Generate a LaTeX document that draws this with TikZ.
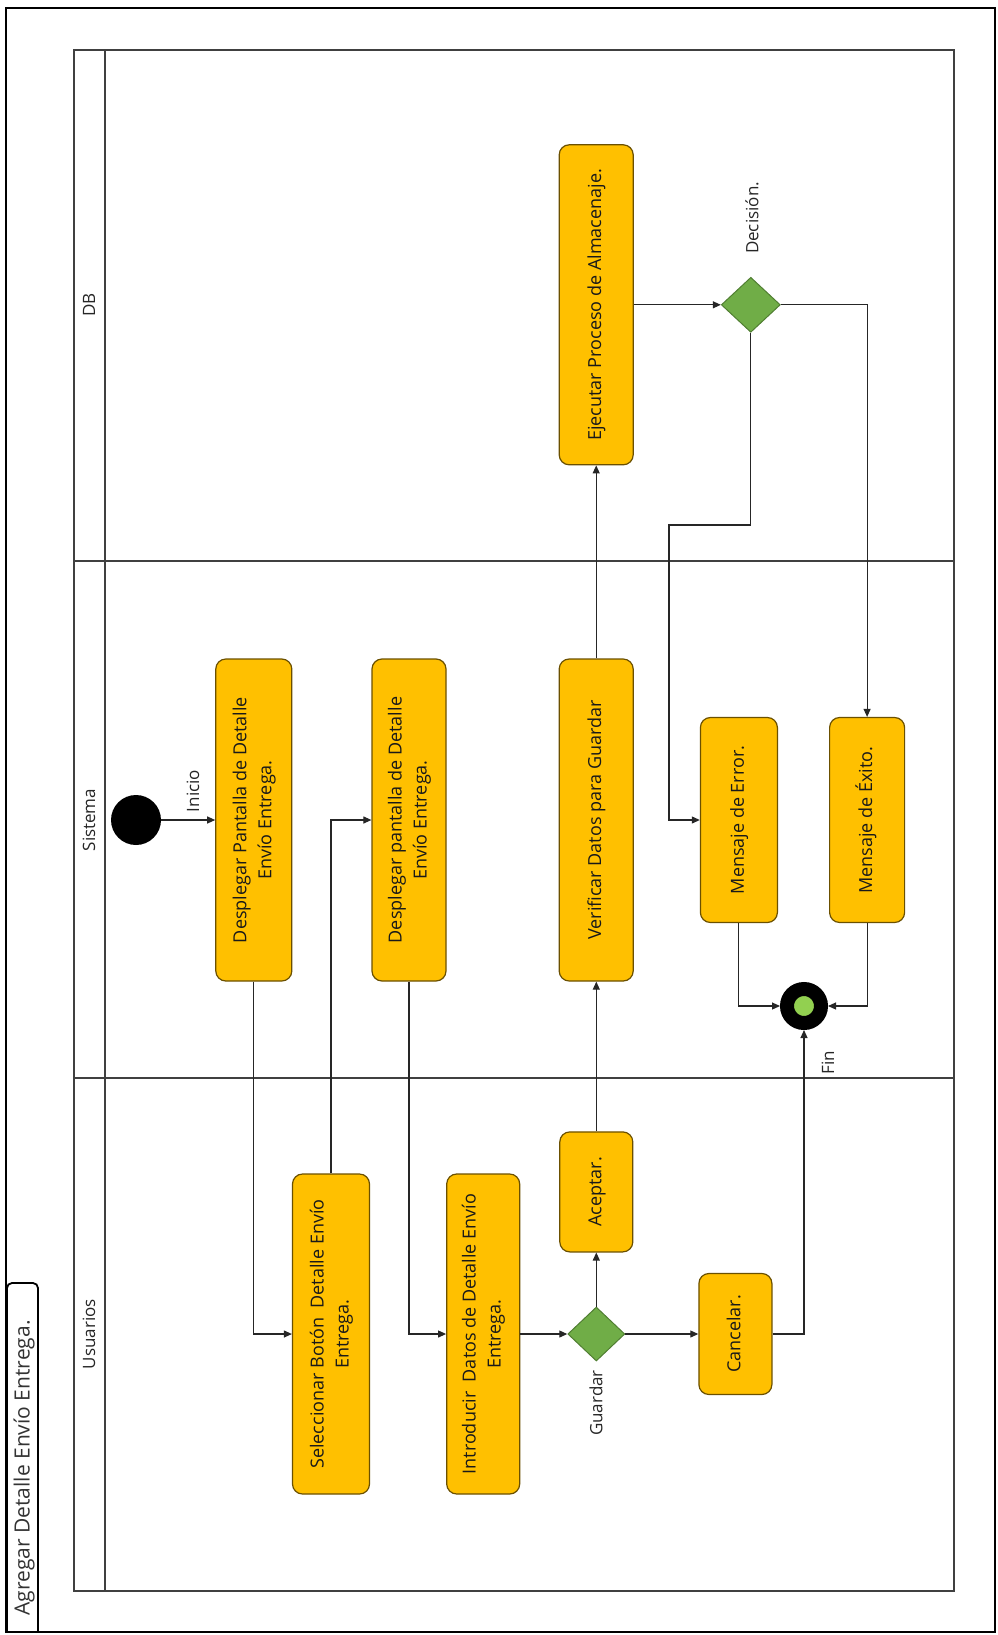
\documentclass[tikz,border=0pt]{standalone}
\usepackage{fontspec}
\setmainfont{Open Sans}
\usepackage{graphicx}
\usepackage{xcolor}
\usepackage{tikz}
\usetikzlibrary{shapes.geometric,arrows.meta,positioning,calc}

\definecolor{actfill}{HTML}{FFC000}
\definecolor{actline}{HTML}{6B5000}
\definecolor{decfill}{HTML}{70AD47}
\definecolor{decline}{HTML}{507E32}
\definecolor{endgreen}{HTML}{92D050}
\definecolor{poolline}{HTML}{404040}

\newcommand{\vtxt}[1]{\rotatebox{90}{\begin{tabular}{@{}c@{}}#1\end{tabular}}}

\begin{document}
\begin{tikzpicture}[
  x=1pt, y=-1pt,
  actbox/.style={draw=actline, line width=1.2pt, fill=actfill, rounded corners=10pt, inner sep=0pt, font=\fontsize{18}{25}\selectfont, text=black!90},
  decnode/.style={draw=decline, line width=1pt, fill=decfill, diamond, inner sep=0pt, minimum width=59pt, minimum height=55pt},
  arr/.style={-{Triangle[length=8pt,width=7pt]}, line width=1.1pt, draw=black!85},
  lbl/.style={font=\fontsize{17}{20}\selectfont, rotate=90, text=black!85},
  lanetitle/.style={font=\fontsize{17}{20}\selectfont, rotate=90, text=black!85},
  lane/.style={draw=poolline, line width=1.4pt}
]
\useasboundingbox (0,0) rectangle (998,1635);

% frame and title tab
\draw[line width=1.5pt] (6,8) rectangle (995,1632);
\draw[line width=1.8pt, rounded corners=5pt] (7,1632) -- (7,1283) -- (38,1283) -- (38,1632);
\node[rotate=90, font=\fontsize{21}{25}\selectfont, text=black!80] (titulo) at (24,1468) {Agregar Detalle Envío Entrega.};

% pool and lanes
\draw[lane] (74,50) rectangle (954,1591);
\draw[lane] (105,50) -- (105,1591);
\draw[lane] (74,561) -- (954,561);
\draw[lane] (74,1078) -- (954,1078);
\node[lanetitle] (tdb) at (89,305) {DB};
\node[lanetitle] (tsis) at (89,820) {Sistema};
\node[lanetitle] (tusu) at (89,1334) {Usuarios};

% Sistema / DB
\node[circle, fill=black, minimum size=50pt, inner sep=0pt] (inicio) at (136,820) {};
\node[actbox, minimum width=76pt, minimum height=322pt, right=54pt of inicio] (desp1) {\vtxt{Desplegar Pantalla de Detalle\\Envío Entrega.}};
\node[actbox, minimum width=74pt, minimum height=322pt, right=79pt of desp1] (desp2) {\vtxt{Desplegar pantalla de Detalle\\Envío Entrega.}};
\node[actbox, minimum width=74pt, minimum height=322pt, right=112pt of desp2] (verif) {\vtxt{Verificar Datos para Guardar}};
\node[actbox, minimum width=74pt, minimum height=320pt, above=193pt of verif] (ejec) {\vtxt{Ejecutar Proceso de Almacenaje.}};
\node[decnode, right=87pt of ejec] (decis) {};
\node[actbox, minimum width=77pt, minimum height=205pt, right=66pt of verif] (error) {\vtxt{Mensaje de Error.}};
\node[actbox, minimum width=75pt, minimum height=205pt, right=51pt of error] (exito) {\vtxt{Mensaje de Éxito.}};
\node[circle, draw=black, line width=14pt, fill=endgreen, minimum size=34pt, inner sep=0pt] (fin) at (804,1006) {};

% Usuarios
\node[actbox, minimum width=77pt, minimum height=320pt] (selec) at (331,1334) {\vtxt{Seleccionar Botón\ \ Detalle Envío\\Entrega.}};
\node[actbox, minimum width=73pt, minimum height=320pt, right=76pt of selec] (intro) {\vtxt{Introducir\ \ Datos de Detalle Envío\\Entrega.}};
\node[decnode, minimum width=57pt, minimum height=54pt, right=47pt of intro] (guardar) {};
\node[actbox, minimum width=73pt, minimum height=120pt, above=54pt of guardar] (acept) {\vtxt{Aceptar.}};
\node[actbox, minimum width=73pt, minimum height=121pt, right=73pt of guardar] (cancel) {\vtxt{Cancelar.}};

% labels
\node[lbl] (linicio) at (193,791) {Inicio};
\node[lbl] (ldecis) at (752,218) {Decisión.};
\node[lbl] (lfin) at (828,1063) {Fin};
\node[lbl] (lguardar) at (596,1403) {Guardar};

% flows
\coordinate (codo) at (669,525);
\draw[arr] (inicio) -- (desp1);
\draw[arr] (desp1.south) |- (selec.west);
\draw[arr] (selec.north) |- (desp2.west);
\draw[arr] (desp2.south) |- (intro.west);
\draw[arr] (intro.east) -- (guardar.west);
\draw[arr] (guardar) -- (acept);
\draw[arr] (guardar) -- (cancel);
\draw[arr] (acept.north) -- (acept.north |- verif.south);
\draw[arr] (cancel.east) -| (fin.south);
\draw[arr] (verif) -- (ejec);
\draw[arr] (ejec) -- (decis);
\draw[arr] (decis.south) |- (codo) |- (error.west);
\draw[arr] (decis.east) -| (exito.north);
\draw[arr] (error.south) |- (fin.west);
\draw[arr] (exito.south) |- (fin.east);

\end{tikzpicture}
\end{document}
